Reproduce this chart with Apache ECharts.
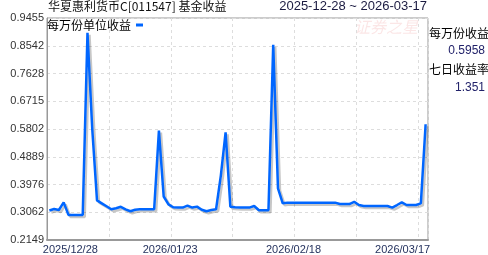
<!DOCTYPE html>
<html>
<head>
<meta charset="utf-8">
<script src="https://cdn.jsdelivr.net/npm/echarts@6/dist/echarts.min.js"></script>
<style>html,body{margin:0;padding:0;background:#fff}#c{width:488px;height:255px}</style>
</head>
<body>
<div id="c"></div>
<script>
// ---- data ----
const titleText = '华夏惠利货币C[011547] 基金收益';
const rangeText = '2025-12-28 ~ 2026-03-17';
const seriesName = '每万份单位收益';
const startDate = '2025-12-28';
const dayCount = 80;
const values = [
  0.3118, 0.3170, 0.3137, 0.3388, 0.2974, 0.2974, 0.2974, 0.2974, 0.8966, 0.5802,
  0.3454, 0.3356, 0.3258, 0.3160, 0.3193, 0.3242, 0.3160, 0.3095, 0.3144, 0.3160,
  0.3160, 0.3160, 0.3160, 0.5747, 0.3580, 0.3323, 0.3225, 0.3216, 0.3216, 0.3281,
  0.3216, 0.3248, 0.3144, 0.3095, 0.3137, 0.3160, 0.4269, 0.5694, 0.3242, 0.3225,
  0.3216, 0.3216, 0.3216, 0.3268, 0.3127, 0.3127, 0.3127, 0.8574, 0.3845, 0.3356,
  0.3379, 0.3379, 0.3379, 0.3379, 0.3379, 0.3379, 0.3379, 0.3379, 0.3379, 0.3379,
  0.3379, 0.3333, 0.3333, 0.3333, 0.3405, 0.3300, 0.3268, 0.3268, 0.3268, 0.3268,
  0.3268, 0.3268, 0.3216, 0.3300, 0.3388, 0.3300, 0.3300, 0.3300, 0.3356, 0.5958
];
const yTickLabels = ['0.2149','0.3062','0.3976','0.4889','0.5802','0.6715','0.7628','0.8542','0.9455'];
const yMin = 0.2149, yMax = 0.9455;
const xLabelIdx = [0, 26, 52, 79];
const sideLabels = ['每万份收益', '七日收益率'];
const sideValues = ['0.5958', '1.351'];
const watermark = '证券之星';

// categories
const dates = [];
{
  const d0 = new Date(startDate + 'T00:00:00Z');
  for (let i = 0; i < dayCount; i++) {
    const d = new Date(d0.getTime() + i * 86400000);
    const p = n => String(n).padStart(2, '0');
    dates.push(d.getUTCFullYear() + '/' + p(d.getUTCMonth() + 1) + '/' + p(d.getUTCDate()));
  }
}

const chart = echarts.init(document.getElementById('c'), null, {renderer: 'canvas'});
const numFont = '"Liberation Sans", Arial, sans-serif';
const cjkFont = '"Noto Sans CJK SC", sans-serif';
const richPad = {
  p0: {padding: [0, 0, 0, 42]},
  p1: {padding: [0, 6, 0, 0]},
  p2: {padding: [0, 7, 0, 0]},
  p3: {padding: [0, 46, 0, 0]}
};
chart.setOption({
  animation: false,
  grid: {left: 47, right: 60, top: 18, bottom: 13, show: true, borderColor: '#999', borderWidth: 1},
  legend: {
    data: [seriesName], left: 47, top: 19, align: 'right', icon: 'rect',
    itemWidth: 7, itemHeight: 3, padding: 0, itemGap: 4,
    textStyle: {fontFamily: cjkFont, fontSize: 12, color: '#000', padding: [0, 0, 0, 0]}
  },
  xAxis: {
    type: 'category', data: dates, boundaryGap: true,
    axisLine: {show: true, lineStyle: {color: '#999', width: 2}},
    axisTick: {show: false},
    splitLine: {show: true, interval: (i) => i > 0 && i % 13 === 0, lineStyle: {color: '#ddd', type: [3, 3]}},
    axisLabel: {
      interval: (i) => xLabelIdx.includes(i), margin: 4,
      fontFamily: numFont, fontSize: 11, color: '#1f2d5a',
      formatter: (v, i) => { const k = xLabelIdx.indexOf(i); return '{p' + k + '|' + v + '}'; },
      rich: richPad
    }
  },
  yAxis: [
    {type: 'value', min: yMin, max: yMax, show: true,
     axisLine: {show: false}, axisTick: {show: false}, axisLabel: {show: false}, splitLine: {show: false}},
    {type: 'value', min: 0, max: yTickLabels.length - 1, interval: 1, position: 'left',
     axisLine: {show: true, lineStyle: {color: '#999', width: 1}}, axisTick: {show: false},
     axisLabel: {margin: 3, fontFamily: numFont, fontSize: 11, color: '#333', formatter: (v) => yTickLabels[v]},
     splitLine: {show: true, lineStyle: {color: '#ddd', type: [3, 3]}}}
  ],
  series: [{
    name: seriesName, type: 'line', data: values, yAxisIndex: 0,
    showSymbol: false, symbol: 'none',
    itemStyle: {color: '#0066ff'},
    lineStyle: {color: '#0066ff', width: 2.5, shadowColor: 'rgba(0,0,0,0.22)', shadowOffsetX: 2, shadowOffsetY: 2, shadowBlur: 0}
  }],
  graphic: [
    {type: 'text', left: 48, top: 0, style: {text: titleText, font: '12px ' + cjkFont, fill: '#111'}},
    {type: 'text', right: 61, top: 0, style: {text: rangeText, font: '13px ' + numFont, fill: '#1a1a40'}},
    {type: 'text', left: 354, top: 19, style: {text: watermark, font: 'italic 16px ' + cjkFont, fill: 'rgba(235,140,140,0.22)'}},
    {type: 'text', left: 429, top: 27, style: {text: sideLabels[0], font: '12px ' + cjkFont, fill: '#000'}},
    {type: 'text', right: 3, top: 45, style: {text: sideValues[0], font: '12px ' + numFont, fill: '#22226a'}},
    {type: 'text', left: 429, top: 63, style: {text: sideLabels[1], font: '12px ' + cjkFont, fill: '#000'}},
    {type: 'text', right: 3, top: 82, style: {text: sideValues[1], font: '12px ' + numFont, fill: '#22226a'}}
  ]
});
</script>
</body>
</html>
